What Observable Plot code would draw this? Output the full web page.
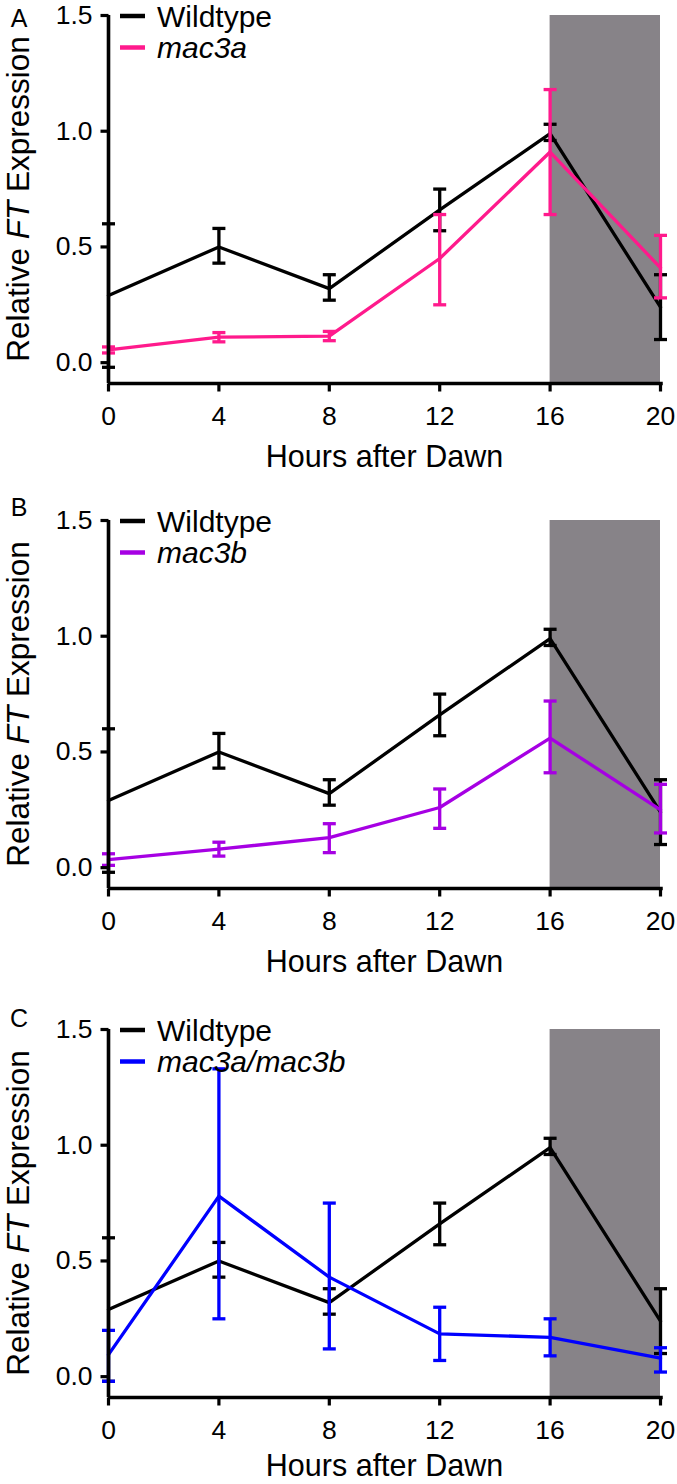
<!DOCTYPE html>
<html>
<head>
<meta charset="utf-8">
<script src="https://cdn.jsdelivr.net/npm/d3@7"></script>
<script src="https://cdn.jsdelivr.net/npm/@observablehq/plot@0.6"></script>
<style>
  body { margin: 0; background: white; }
  #chart { width: 677px; position: relative; }
  #chart svg { display: block; background: white; }
</style>
</head>
<body>
<div id="chart"></div>
<script>
// ---- data ----
const hours = [0, 4, 8, 12, 16, 20];
const darkPeriod = [16, 20];
const yTicks = [0, 0.5, 1.0, 1.5];

const wtMean = [0.29, 0.50, 0.32, 0.66, 0.99, 0.24];
const wtLo   = [-0.02, 0.43, 0.27, 0.57, 0.96, 0.10];
const wtHi   = [0.60, 0.58, 0.38, 0.75, 1.03, 0.38];

const mac3aMean = [0.055, 0.11, 0.115, 0.45, 0.91, 0.41];
const mac3aLo   = [0.042, 0.09, 0.095, 0.25, 0.64, 0.28];
const mac3aHi   = [0.068, 0.13, 0.135, 0.64, 1.18, 0.55];

const mac3bMean = [0.035, 0.08, 0.13, 0.26, 0.56, 0.25];
const mac3bLo   = [0.01, 0.05, 0.065, 0.17, 0.41, 0.15];
const mac3bHi   = [0.06, 0.11, 0.19, 0.34, 0.72, 0.36];

const dblMean = [0.095, 0.78, 0.43, 0.185, 0.17, 0.08];
const dblLo   = [-0.02, 0.25, 0.12, 0.07, 0.09, 0.02];
const dblHi   = [0.20, 1.33, 0.75, 0.30, 0.25, 0.125];

const wtName = "Wildtype";
const mutantNames = ["mac3a", "mac3b", "mac3a/mac3b"];
const panelLetters = ["A", "B", "C"];
const xLabel = "Hours after Dawn";

// ---- layout ----
const FONT = "Liberation Sans, Arial, Helvetica, sans-serif";
const W = 677, ML = 108, MR = 17, PLOT_H = 368;
const YMIN = -0.09, YMAX = 1.5;
const colors = { wt: "#000000", a: "#FF1A8C", b: "#A600E3", ab: "#0000FF" };
const grey = "#878388";
const LW = 3.3;

const rows = (m, lo, hi) => hours.map((h, i) => ({ h, mean: m[i], lo: lo[i], hi: hi[i] }));

const rOf = size => Math.sqrt(size / Math.PI);
const capSymbol = { draw(c, size) { const w = rOf(size); c.moveTo(-w, 0); c.lineTo(w, 0); } };
const tickLeft  = { draw(c, size) { const w = rOf(size); c.moveTo(-w, 0); c.lineTo(0, 0); } };
const tickDown  = { draw(c, size) { const w = rOf(size); c.moveTo(0, 0); c.lineTo(0, w); } };

function seriesMarks(data, color) {
  return [
    Plot.ruleX(data, { x: "h", y1: "lo", y2: "hi", stroke: color, strokeWidth: LW }),
    Plot.dot(data, { x: "h", y: "lo", symbol: capSymbol, r: 6.5, stroke: color, fill: "none", strokeWidth: LW }),
    Plot.dot(data, { x: "h", y: "hi", symbol: capSymbol, r: 6.5, stroke: color, fill: "none", strokeWidth: LW }),
    Plot.line(data, { x: "h", y: "mean", stroke: color, strokeWidth: LW })
  ];
}

function panel({ height, marginTop, letter, letterY, labelDy, mutData, mutName, mutColor }) {
  const marginBottom = height - marginTop - PLOT_H;
  const svg = Plot.plot({
    width: W,
    height,
    marginLeft: ML,
    marginRight: MR,
    marginTop,
    marginBottom,
    style: { fontFamily: FONT, color: "black", background: "white", overflow: "visible" },
    x: { domain: [0, 20] },
    y: { domain: [YMIN, YMAX] },
    marks: [
      Plot.rect([darkPeriod], { x1: d => d[0], x2: d => d[1], y1: YMIN, y2: YMAX, fill: grey }),
      ...seriesMarks(rows(wtMean, wtLo, wtHi), colors.wt),
      ...seriesMarks(mutData, mutColor),
      Plot.ruleX([0], { y1: YMIN, y2: YMAX, strokeWidth: 3.6 }),
      Plot.ruleY([YMIN], { x1: 0, x2: 20.1, strokeWidth: 3.6 }),
      Plot.dot(yTicks, { x: 0, y: d => d, symbol: tickLeft, r: 8, stroke: "black", fill: "none", strokeWidth: 3.2 }),
      Plot.dot(hours, { x: d => d, y: YMIN, symbol: tickDown, r: 8, stroke: "black", fill: "none", strokeWidth: 3.2 }),
      Plot.axisY({ ticks: yTicks, tickFormat: d3.format(".1f"), tickSize: 0, tickPadding: 16, fontSize: 26.5, label: null }),
      Plot.axisX({ ticks: hours, tickFormat: d => String(d), tickSize: 0, tickPadding: 23, fontSize: 26.5, label: null }),
      Plot.text([xLabel], { frameAnchor: "bottom", lineAnchor: "top", dy: labelDy, fontSize: 30.5, text: d => d })
    ]
  });
  const s = d3.select(svg);
  const cy = marginTop + PLOT_H / 2;
  // y-axis title with italic gene name
  const t = s.append("text")
    .attr("transform", `translate(29,${cy}) rotate(-90)`)
    .attr("text-anchor", "middle")
    .attr("font-size", 31.5)
    .attr("font-family", FONT)
    .attr("fill", "black");
  t.append("tspan").text("Relative ");
  t.append("tspan").attr("font-style", "italic").text("FT");
  t.append("tspan").text(" Expression");
  // panel letter
  s.append("text").attr("x", 19).attr("y", letterY).attr("text-anchor", "middle")
    .attr("font-size", 25).attr("font-family", FONT).attr("fill", "black").text(letter);
  // legend
  const leg = [{ name: wtName, color: colors.wt, italic: false }, { name: mutName, color: mutColor, italic: true }];
  leg.forEach((e, i) => {
    const y = marginTop + 1 + i * 31.5;
    s.append("line").attr("x1", ML + 12).attr("x2", ML + 37).attr("y1", y).attr("y2", y)
      .attr("stroke", e.color).attr("stroke-width", 4.5);
    s.append("text").attr("x", ML + 49).attr("y", y + 10.5).attr("font-size", 30)
      .attr("text-anchor", "start")
      .attr("font-family", FONT).attr("fill", "black")
      .attr("font-style", e.italic ? "italic" : "normal").text(e.name);
  });
  return svg;
}

const chart = document.getElementById("chart");
chart.append(panel({ height: 495, marginTop: 15, letter: panelLetters[0], letterY: 27, labelDy: 62,
  mutData: rows(mac3aMean, mac3aLo, mac3aHi), mutName: mutantNames[0], mutColor: colors.a }));
chart.append(panel({ height: 509, marginTop: 25, letter: panelLetters[1], letterY: 21, labelDy: 62,
  mutData: rows(mac3bMean, mac3bLo, mac3bHi), mutName: mutantNames[1], mutColor: colors.b }));
chart.append(panel({ height: 480, marginTop: 25, letter: panelLetters[2], letterY: 23, labelDy: 57,
  mutData: rows(dblMean, dblLo, dblHi), mutName: mutantNames[2], mutColor: colors.ab }));
</script>
</body>
</html>
